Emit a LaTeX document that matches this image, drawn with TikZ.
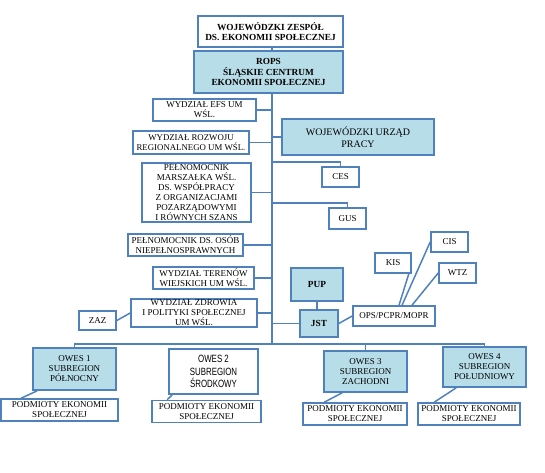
\documentclass[tikz,border=0pt]{standalone}
\usepackage{fontspec}
\setmainfont{Liberation Serif}
\newfontfamily\narrowfont[FakeStretch=0.75]{Liberation Sans}
\usetikzlibrary{positioning, calc}
\definecolor{owesline}{RGB}{79,129,189}
\definecolor{owesfill}{RGB}{183,221,232}
\tikzset{
    unit/.style={draw=owesline, line width=1.6pt, fill=white, align=center, inner sep=0pt,
        font=\fontsize{9}{10}\selectfont},
    bluebox/.style={unit, fill=owesfill},
    heavy/.style={font=\fontsize{9.3}{10.8}\selectfont\bfseries},
    wh/.style 2 args={minimum width=#1pt, minimum height=#2pt},
    link/.style={draw=owesline, line width=1.5pt}
}

\begin{document}
\begin{tikzpicture}[x=1pt, y=-1pt]
    \useasboundingbox (0,0) rectangle (545,472);

    % Top of the structure
    \node[unit, heavy, wh={145}{31}] (zespol) at (270.5,31.5) {WOJEWÓDZKI ZESPÓŁ\\DS. EKONOMII SPOŁECZNEJ};
    \node[bluebox, heavy, wh={149}{42}] (rops) at (268.5,72) {ROPS\\ŚLĄSKIE CENTRUM\\EKONOMII SPOŁECZNEJ};

    % Units on the left of the trunk
    \node[unit, wh={103}{22}] (efs) at (204.5,110) {WYDZIAŁ EFS UM\\WŚL.};
    \node[unit, wh={116}{23}, font=\fontsize{8.8}{10}\selectfont] (rozwoj) at (191,142.5) {WYDZIAŁ ROZWOJU\\REGIONALNEGO UM WŚL.};
    \node[unit, wh={109}{59}] (pelnom) at (196.5,192.5) {PEŁNOMOCNIK\\MARSZAŁKA WŚL.\\DS. WSPÓŁPRACY\\Z ORGANIZACJAMI\\POZARZĄDOWYMI\\I RÓWNYCH SZANS};
    \node[unit, wh={115}{22}] (osob) at (185.5,245) {PEŁNOMOCNIK DS. OSÓB\\NIEPEŁNOSPRAWNYCH};
    \node[unit, wh={101}{22}] (terenow) at (203.5,278) {WYDZIAŁ TERENÓW\\WIEJSKICH UM WŚL.};
    \node[unit, wh={126}{28}] (zdrowie) at (194,313) {WYDZIAŁ ZDROWIA\\I POLITYKI SPOŁECZNEJ\\UM WŚL.};
    \node[unit, wh={37}{19}] (zaz) at (97.5,320.5) {ZAZ};

    % Units on the right of the trunk
    \node[bluebox, wh={152}{36}, font=\fontsize{10}{12}\selectfont] (wup) at (358,137) {WOJEWÓDZKI URZĄD\\PRACY};
    \node[unit, wh={37}{20}] (ces) at (340.5,177) {CES};
    \node[unit, wh={37}{21}] (gus) at (347.5,218.5) {GUS};
    \node[bluebox, heavy, wh={52}{33}] (pup) at (317,284.5) {PUP};
    \node[bluebox, heavy, wh={38}{27}] (jst) at (319,323.5) {JST};
    \node[unit, wh={82}{20}] (ops) at (394,316) {OPS/PCPR/MOPR};
    \node[unit, wh={36}{20}] (kis) at (393,263) {KIS};
    \node[unit, wh={37}{20}] (cis) at (449.5,242) {CIS};
    \node[unit, wh={37}{20}] (wtz) at (457.5,273) {WTZ};

    % Subregions
    \node[bluebox, wh={83}{42}] (owes1) at (74.5,369) {OWES 1\\SUBREGION\\PÓŁNOCNY};
    \node[unit, wh={89}{45}, font=\narrowfont\fontsize{10.5}{12.5}\selectfont] (owes2) at (213.5,371.5) {OWES 2\\SUBREGION\\ŚRODKOWY};
    \node[bluebox, wh={83}{41}] (owes3) at (365.5,371.5) {OWES 3\\SUBREGION\\ZACHODNI};
    \node[bluebox, wh={83}{40}] (owes4) at (484.5,367) {OWES 4\\SUBREGION\\POŁUDNIOWY};

    % Social economy entities under each subregion
    \foreach \n/\x/\y/\bw in {1/59.5/410/117, 2/206.5/411.5/109, 3/355/414/104, 4/469/414/102}
        \node[unit, wh={\bw}{22}] (pes\n) at (\x,\y) {PODMIOTY EKONOMII\\SPOŁECZNEJ};

    % Trunk
    \coordinate (bus) at (272,344);
    \draw[link] (zespol.south -| bus) -- (rops.north -| bus);
    \draw[link] (rops.south -| bus) -- (bus);

    % Links from the trunk
    \foreach \u in {efs, rozwoj, pelnom, osob, terenow, zdrowie}
        \draw[link] (\u.east) -- (\u.east -| bus);
    \foreach \u in {wup, jst}
        \draw[link] (\u.west) -- (\u.west -| bus);
    \draw[link] (ces.north) -- ++(0,-4) coordinate (cesbend) -- (cesbend -| bus);
    \draw[link] (gus.north) -- ++(0,-4) coordinate (gusbend) -- (gusbend -| bus);
    \draw[link] (pup.south) -- (pup.south |- jst.north);
    \draw[link] (zaz.east) -- (zdrowie.west);
    \draw[link] (jst.east) -- (ops.west);
    \draw[link] ([xshift=-3pt]kis.south east) -- ([xshift=5pt]ops.north);
    \draw[link] (cis.west) -- ([xshift=8pt]ops.north);
    \draw[link] (wtz.west) -- ([xshift=18pt]ops.north);

    % Bus to the subregions
    \draw[link] (owes1.north) |- (bus) -| (owes4.north);
    \draw[link] (bus) -| (owes3.north);

    % Subregion to its entities
    \foreach \n/\a/\b in {1/5/21, 2/4/16, 3/19/22, 4/14/17}
        \draw[link] ([xshift=\a pt]owes\n.south west) -- ([xshift=\b pt]pes\n.north west);
\end{tikzpicture}
\end{document}
